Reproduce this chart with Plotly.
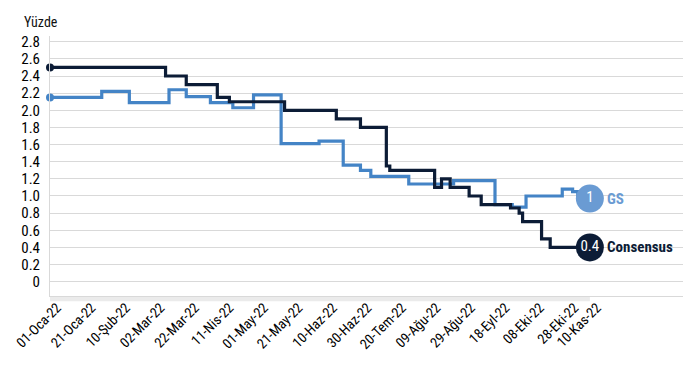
import plotly.graph_objects as go

# ---- data ----
cons_dates = ["2022-01-01", "2022-03-09", "2022-03-21", "2022-04-08", "2022-04-15",
              "2022-05-17", "2022-06-16", "2022-06-30", "2022-07-15", "2022-07-17",
              "2022-08-12", "2022-08-16", "2022-08-21", "2022-09-01", "2022-09-08",
              "2022-09-25", "2022-09-30", "2022-10-02", "2022-10-13", "2022-10-18",
              "2022-11-10"]
cons_values = [2.5, 2.4, 2.3, 2.15, 2.1,
               2.0, 1.9, 1.8, 1.35, 1.3,
               1.1, 1.2, 1.1, 1.0, 0.9,
               0.86, 0.8, 0.7, 0.5, 0.4,
               0.4]

gs_dates = ["2022-01-01", "2022-01-31", "2022-02-16", "2022-03-11", "2022-03-21",
            "2022-04-04", "2022-04-17", "2022-04-29", "2022-05-15", "2022-06-06",
            "2022-06-20", "2022-06-30", "2022-07-06", "2022-07-28", "2022-08-23",
            "2022-09-16", "2022-09-26", "2022-10-04", "2022-10-25", "2022-10-31",
            "2022-11-03", "2022-11-10"]
gs_values = [2.15, 2.22, 2.09, 2.24, 2.16,
             2.09, 2.03, 2.18, 1.61, 1.64,
             1.36, 1.30, 1.23, 1.14, 1.18,
             0.90, 0.87, 1.0, 1.08, 1.05,
             0.97, 0.97]

x_tick_dates = ["2022-01-01", "2022-01-21", "2022-02-10", "2022-03-02", "2022-03-22",
                "2022-04-11", "2022-05-01", "2022-05-21", "2022-06-10", "2022-06-30",
                "2022-07-20", "2022-08-09", "2022-08-29", "2022-09-18", "2022-10-08",
                "2022-10-28", "2022-11-10"]
x_tick_labels = ["01-Oca-22", "21-Oca-22", "10-Şub-22", "02-Mar-22", "22-Mar-22",
                 "11-Nis-22", "01-May-22", "21-May-22", "10-Haz-22", "30-Haz-22",
                 "20-Tem-22", "09-Ağu-22", "29-Ağu-22", "18-Eyl-22", "08-Eki-22",
                 "28-Eki-22", "10-Kas-22"]
y_tick_vals = [0, 0.2, 0.4, 0.6, 0.8, 1.0, 1.2, 1.4, 1.6, 1.8, 2.0, 2.2, 2.4, 2.6, 2.8]
y_tick_labels = ["0", "0.2", "0.4", "0.6", "0.8", "1.0", "1.2", "1.4", "1.6", "1.8",
                 "2.0", "2.2", "2.4", "2.6", "2.8"]

gs_label = "GS"
cons_label = "Consensus"

# ---- style ----
FONT = "Roboto Condensed, Liberation Sans Narrow, DejaVu Sans Condensed, Roboto, sans-serif"
NAVY = "#0c1c36"
BLUE = "#4484c6"
BLUE_LIGHT = "#6a9bd3"
GRID = "#d9d9d9"

fig = go.Figure()

fig.add_trace(go.Scatter(x=gs_dates, y=gs_values, mode="lines", line=dict(color=BLUE, width=3.2, shape="hv"),
                         cliponaxis=False, showlegend=False, hoverinfo="skip"))
fig.add_trace(go.Scatter(x=cons_dates, y=cons_values, mode="lines", line=dict(color=NAVY, width=3.2, shape="hv"),
                         cliponaxis=False, showlegend=False, hoverinfo="skip"))

# start dots
fig.add_trace(go.Scatter(x=[gs_dates[0]], y=[gs_values[0]], mode="markers",
                         marker=dict(color=BLUE, size=8), cliponaxis=False, showlegend=False))
fig.add_trace(go.Scatter(x=[cons_dates[0]], y=[cons_values[0]], mode="markers",
                         marker=dict(color=NAVY, size=8), cliponaxis=False, showlegend=False))

# end circles
fig.add_trace(go.Scatter(x=[gs_dates[-1]], y=[gs_values[-1]], mode="markers+text",
                         marker=dict(color=BLUE_LIGHT, size=28),
                         text=[f"{gs_values[-1]:.0f}"], textposition="middle center",
                         textfont=dict(color="white", size=15, family=FONT),
                         cliponaxis=False, showlegend=False))
fig.add_trace(go.Scatter(x=[cons_dates[-1]], y=[cons_values[-1]], mode="markers+text",
                         marker=dict(color=NAVY, size=28),
                         text=[f"{cons_values[-1]:.1f}"], textposition="middle center",
                         textfont=dict(color="white", size=15, family=FONT),
                         cliponaxis=False, showlegend=False))

fig.add_annotation(x=gs_dates[-1], y=gs_values[-1], text=f"<b>{gs_label}</b>", showarrow=False,
                   xanchor="left", xshift=15, font=dict(color=BLUE_LIGHT, size=15, family=FONT))
fig.add_annotation(x=cons_dates[-1], y=cons_values[-1], text=f"<b>{cons_label}</b>", showarrow=False,
                   xanchor="left", xshift=15, font=dict(color=NAVY, size=15, family=FONT))

fig.add_annotation(xref="paper", yref="paper", x=-0.045, y=1.054, text="Yüzde", showarrow=False,
                   xanchor="left", yanchor="middle", font=dict(color="#111", size=14, family=FONT))

# axis band under data range
fig.add_shape(type="rect", xref="x", yref="paper", x0=x_tick_dates[0], x1=x_tick_dates[-1],
              y0=-0.02, y1=-0.003, fillcolor="#ebebeb", line=dict(width=0), layer="below")

fig.update_layout(
    width=692, height=361,
    margin=dict(l=42, r=17, t=28, b=73),
    paper_bgcolor="white", plot_bgcolor="white",
    font=dict(family=FONT, size=13, color="#111"),
    xaxis=dict(type="date", range=["2022-01-01", "2023-01-03"], automargin=False,
               tickvals=x_tick_dates, ticktext=x_tick_labels, tickangle=-45,
               ticklabeloverflow="allow", ticklabelshift=7, ticklabelstandoff=-3,
               tickfont=dict(size=14, family=FONT, color="#000"),
               showgrid=False, zeroline=False, showline=True, linecolor=GRID, linewidth=1,
               ticks=""),
    yaxis=dict(range=[-0.167, 2.867], tickvals=y_tick_vals, ticktext=y_tick_labels, automargin=False,
               tickfont=dict(size=15, family=FONT, color="#000"),
               showgrid=True, gridcolor=GRID, gridwidth=1, zeroline=False,
               showline=True, linecolor=GRID, linewidth=1, ticks="", ticklabelstandoff=6),
)

fig.write_html("out.html")
